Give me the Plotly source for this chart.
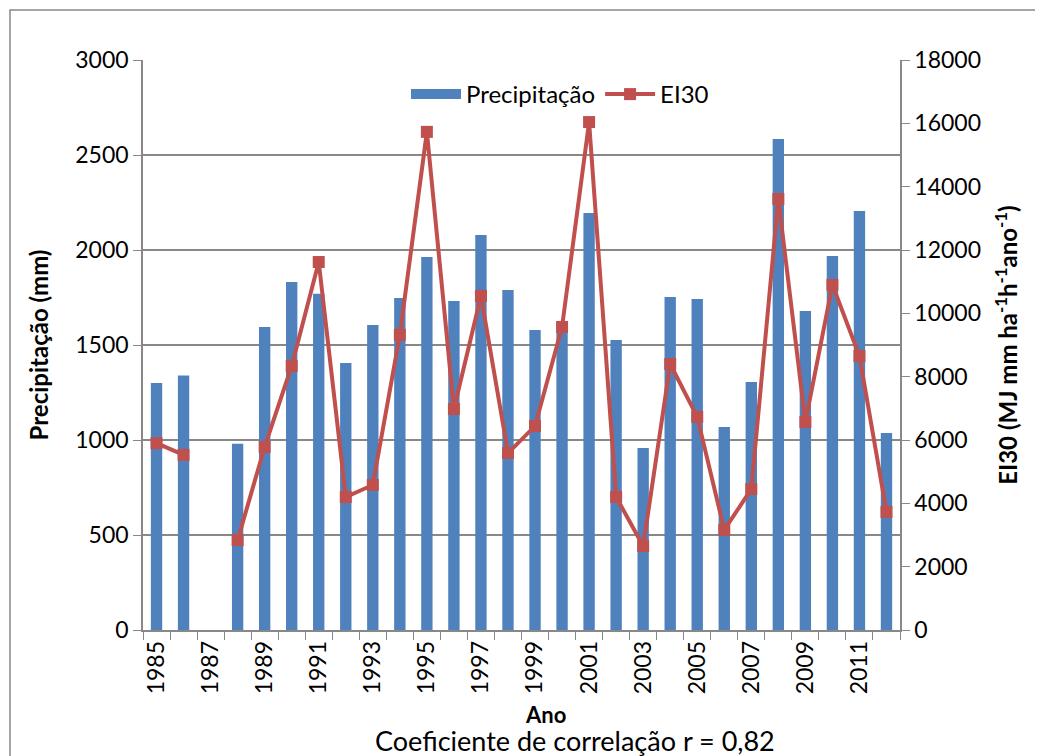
import plotly.graph_objects as go

years = list(range(1985, 2013))
precip = [1300, 1340, None, 980, 1595, 1832, 1770, 1405, 1605, 1747, 1963, 1732, 2079, 1789,
          1579, 1570, 2195, 1526, 958, 1753, 1742, 1068, 1305, 2584, 1679, 1968, 2205, 1037]
ei30 = [5900, 5530, None, 2840, 5780, 8340, 11620, 4200, 4580, 9320, 15730, 6980, 10550, 5590,
        6440, 9570, 16040, 4200, 2650, 8400, 6730, 3160, 4450, 13610, 6570, 10900, 8650, 3730]
tick_years = list(range(1985, 2012, 2))
boundaries = [y - 0.5 for y in range(1985, 2014)]

FONT = "Lato"
BLUE = "#4F81BD"
RED = "#C0504D"
GRID = "#888888"

# page body has an 8px margin: work in window coords and shift
OFF = 8
W, H = 1043 - OFF, 756 - OFF
L = 143 - OFF
T = 60 - OFF
R = W - (900 - OFF)
B = H - (630 - OFF)
pw, ph = W - L - R, H - T - B


def px(xw):
    return (xw - OFF - L) / pw


def py(yw):
    return (H - B - (yw - OFF)) / ph


fig = go.Figure()
fig.add_trace(go.Bar(x=years, y=precip, name="Precipitação", marker=dict(color=BLUE, line=dict(width=0)),
                     width=0.42, yaxis="y", showlegend=False))
fig.add_trace(go.Scatter(x=[None], y=[None], name="Precipitação", mode="lines", yaxis="y",
                         line=dict(color=BLUE, width=14)))
fig.add_trace(go.Scatter(x=years, y=ei30, name="EI30", mode="lines+markers", yaxis="y2",
                         line=dict(color=RED, width=4), connectgaps=False,
                         marker=dict(symbol="square", size=12, color=RED)))

fig.update_layout(
    width=W, height=H,
    margin=dict(l=L, r=R, t=T, b=B, autoexpand=False),
    paper_bgcolor="white", plot_bgcolor="white",
    font=dict(family=FONT, size=23, color="black"),
    showlegend=True,
    legend=dict(orientation="h", x=px(560), xanchor="center", y=py(72), yanchor="top",
                font=dict(family=FONT, size=24), bgcolor="rgba(255,255,255,0)", itemwidth=50),
    xaxis=dict(range=[1984.5, 2012.5], tickmode="array", tickvals=tick_years, automargin=False,
               ticktext=[str(y) for y in tick_years], tickangle=-90, ticks="", showgrid=False,
               showline=True, linecolor=GRID, linewidth=1.5, zeroline=False,
               tickfont=dict(size=23),
               minor=dict(tickmode="array", tickvals=boundaries, ticks="outside", ticklen=8,
                          tickcolor=GRID, showgrid=False)),
    yaxis=dict(range=[0, 3000], dtick=500, showgrid=True, gridcolor=GRID, gridwidth=1.5,
               showline=True, linecolor=GRID, linewidth=1.5, ticks="outside", ticklen=8,
               tickcolor=GRID, zeroline=False, tickfont=dict(size=23), automargin=False,
               title=dict(text="<b>Precipitação (mm)</b>", font=dict(size=24), standoff=20)),
    yaxis2=dict(range=[0, 18000], dtick=2000, overlaying="y", side="right", showgrid=False,
                showline=True, linecolor=GRID, linewidth=1.5, ticks="outside", ticklen=8,
                tickcolor=GRID, zeroline=False, tickfont=dict(size=23), automargin=False,
                tickformat="d",
                title=dict(text="<b>EI30 (MJ mm ha<sup>-1</sup>h<sup>-1</sup>ano<sup>-1</sup>)</b>",
                           font=dict(size=24), standoff=20)),
    bargap=0.6,
)

fig.add_annotation(text="<b>Ano</b>", x=px(545), xref="paper", y=py(714), yref="paper",
                   showarrow=False, font=dict(size=22, family=FONT), yanchor="middle")
fig.add_annotation(text="Coeficiente de correlação r = 0,82", x=px(575), xref="paper",
                   y=py(740), yref="paper", showarrow=False,
                   font=dict(size=27, family=FONT), yanchor="middle")

fig.add_shape(type="rect", xref="paper", yref="paper",
              x0=px(10), x1=px(1040), y0=py(770), y1=py(10),
              line=dict(color=GRID, width=1.5), fillcolor="rgba(0,0,0,0)", layer="below")

fig.write_html("out.html")
